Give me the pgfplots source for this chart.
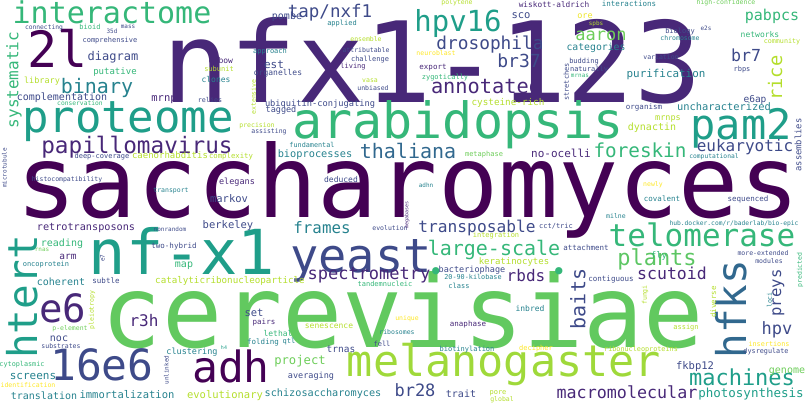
\documentclass[border=0pt]{standalone}
\usepackage{pgfplots}
\pgfplotsset{compat=1.18}
\usepackage{fontspec}
\newfontfamily\wc{DejaVu Sans Mono}
\definecolor{V0}{HTML}{440154}
\definecolor{V1}{HTML}{482878}
\definecolor{V2}{HTML}{3E4A89}
\definecolor{V3}{HTML}{31688E}
\definecolor{V4}{HTML}{26828E}
\definecolor{V5}{HTML}{1F9E89}
\definecolor{V6}{HTML}{35B779}
\definecolor{V7}{HTML}{6DCD59}
\definecolor{V8}{HTML}{B4DE2C}
\definecolor{V9}{HTML}{FDE725}
\newcommand\w[6]{\node[anchor=base,inner sep=0pt,rotate=#5,text=#4,font=\wc\fontsize{#3}{#3}\selectfont] at (axis cs:#1,#2) {\raisebox{-0.27em}{#6}};}
\begin{document}
\begin{tikzpicture}
\begin{axis}[width=808pt,height=404pt,scale only axis,xmin=0,xmax=808,ymin=0,ymax=404,y dir=reverse,hide axis,clip=false]
\addplot[draw=none,forget plot] coordinates {(0,0) (808,404)};
% big words
\w{408}{190}{100}{V0}{0}{saccharomyces}
\w{403}{320}{100}{V7!80!V6}{0}{cerevisiae}
\w{432}{72}{112}{V1}{0}{nfx1-123}
\w{458}{125}{50}{V6}{0}{arabidopsis}
\w{128}{121}{44}{V5}{0}{proteome}
\w{741}{128}{42}{V5}{0}{pam2}
\w{182}{258}{62}{V5}{0}{nf-x1}
\w{361}{260}{47}{V2}{0}{yeast}
\w{504}{365}{43.5}{V8!70!V7}{0}{melanogaster}
\w{102}{369}{43}{V2}{0}{16e6}
\w{231}{371}{43}{V0}{0}{adh}
\w{26}{297}{41}{V5}{90}{htert}
\w{63}{312}{39}{V1}{0}{e6}
\w{735}{309}{41}{V3}{90}{hfks}
\w{58}{54}{50}{V0}{0}{2l}
\w{112}{15}{30}{V6}{0}{interactome}
\w{458}{24}{29}{V5}{0}{hpv16}
\w{702}{238}{31}{V6}{0}{telomerase}
% medium
\w{137}{147}{22.7}{V1}{0}{papillomavirus}
\w{97}{88}{20}{V4}{0}{binary}
\w{408}{153}{20}{V3}{0}{thaliana}
\w{486}{88}{20.3}{V1}{0}{annotated}
\w{490}{45}{17.8}{V2}{0}{drosophila}
\w{519}{63}{18}{V2}{0}{br37}
\w{330}{13}{17.5}{V2}{0}{tap/nxf1}
\w{772}{16}{15}{V6}{0}{pabpcs}
\w{601}{36}{17}{V7}{0}{aaron}
\w{746}{57}{16.6}{V2}{0}{br7}
\w{777}{78}{18.7}{V8}{90}{rice}
\w{640}{152}{19.3}{V6}{0}{foreskin}
\w{745}{147}{16}{V2}{0}{eukaryotic}
\w{14}{80}{16}{V6}{90}{systematic}
\w{369}{275}{17}{V1}{0}{spectrometry}
\w{436}{274}{25}{V6}{0}{•}
\w{559}{274}{25}{V6}{0}{•}
\w{477}{228}{16.2}{V2}{0}{transposable}
\w{494}{250}{20}{V6}{0}{large-scale}
\w{657}{260}{22}{V7!70!V6}{0}{plants}
\w{526}{277}{16}{V1}{0}{rbds}
\w{672}{275}{16.5}{V1}{0}{scutoid}
\w{580}{299}{20}{V2}{90}{baits}
\w{777}{293}{15.6}{V2}{90}{preys}
\w{777}{330}{17}{V2}{0}{hpv}
\w{742}{380}{22}{V5}{0}{machines}
\w{627}{394}{16.7}{V1}{0}{macromolecular}
\w{751}{394}{12.5}{V5}{0}{photosynthesis}
\w{415}{392}{17}{V2}{0}{br28}
\w{144}{322}{16}{V1}{0}{r3h}
\w{322}{229}{15.8}{V4}{0}{frames}
\w{300}{361}{12.2}{V7}{0}{project}
\w{666}{75}{10.9}{V4}{0}{purification}
\w{724}{108}{10.4}{V4}{0}{uncharacterized}
\w{561}{155}{11}{V1}{0}{no-ocelli}
\w{652}{128}{10}{V8}{0}{dynactin}
\w{668}{118}{8.5}{V8}{0}{mrnps}
\w{755}{100}{9.5}{V2}{0}{e6ap}
\w{596}{48}{9.8}{V4}{0}{categories}
\w{521}{16}{10.5}{V2}{0}{sco}
\w{508}{103}{9.3}{V8}{0}{cysteine-rich}
\w{62}{98}{10}{V2}{0}{complementation}
\w{113}{57}{12}{V2}{0}{diagram}
\w{164}{99}{10.5}{V1}{0}{mrnp}
\w{287}{17}{10}{V2}{0}{pombe}
\w{315}{155}{10.3}{V4}{0}{bioprocesses}
\w{229}{200}{10.5}{V2}{0}{markov}
\w{274}{66}{11}{V2}{0}{est}
\w{170}{156}{9}{V8}{0}{caenorhabditis}
\w{86}{228}{10.2}{V1}{0}{retrotransposons}
\w{62}{244}{10}{V6}{0}{reading}
\w{68}{257}{9.5}{V1}{0}{arm}
\w{228}{226}{10.5}{V2}{0}{berkeley}
\w{184}{265}{10}{V6}{0}{map}
\w{61}{283}{10}{V4}{0}{coherent}
\w{230}{281}{9.2}{V8}{0}{catalyticribonucleoparticle}
\w{254}{314}{10.5}{V2}{0}{set}
\w{59}{339}{10}{V2}{0}{noc}
\w{192}{352}{8.5}{V4}{0}{clustering}
\w{341}{350}{9.5}{V2}{0}{trnas}
\w{33}{377}{11}{V4}{0}{screens}
\w{311}{376}{8.5}{V2}{0}{averaging}
\w{44}{397}{10}{V4}{0}{translation}
\w{127}{396}{10.5}{V4}{0}{immortalization}
\w{225}{396}{10.5}{V8}{0}{evolutionary}
\w{323}{394}{10.2}{V4}{0}{schizosaccharomyces}
\w{695}{367}{10.5}{V2}{0}{fkbp12}
\w{787}{371}{10}{V7}{0}{genome}
\w{461}{395}{10}{V2}{0}{trait}
\w{514}{262}{9}{V8}{0}{keratinocytes}
\w{659}{256}{9}{V6}{0}{fly}
\w{472}{270}{8.5}{V2}{0}{bacteriophage}
\w{799}{145}{8.8}{V2}{90}{assemblies}
\w{760}{35}{8}{V6}{0}{networks}
% small
\w{44}{28}{6.3}{V2}{0}{connecting}
\w{90}{28}{7}{V6}{0}{bioid}
\w{112}{32}{6}{V2}{0}{35d}
\w{128}{27}{6}{V2}{0}{mass}
\w{110}{41}{7}{V2}{0}{comprehensive}
\w{342}{24}{7}{V4}{0}{applied}
\w{366}{40}{6.5}{V8}{0}{ensemble}
\w{270}{52}{7}{V4}{0}{approach}
\w{366}{51}{6.5}{V2}{0}{attributable}
\w{370}{60}{7}{V2}{0}{challenge}
\w{221}{61}{8}{V1}{0}{elbow}
\w{219}{70}{7}{V8}{0}{subunit}
\w{353}{67}{7}{V1}{0}{living}
\w{370}{81}{6.5}{V8}{0}{vasa}
\w{373}{89}{6.5}{V2}{0}{unbiased}
\w{278}{73}{8}{V2}{0}{organelles}
\w{115}{72}{9}{V6}{0}{putative}
\w{42}{81}{8.5}{V8}{0}{library}
\w{216}{80}{8}{V4}{0}{clones}
\w{210}{101}{6.7}{V2}{0}{relies}
\w{80}{104}{6.3}{V6}{0}{conservation}
\w{320}{104}{8.7}{V2}{0}{ubiquitin-conjugating}
\w{281}{110}{8.5}{V2}{0}{tagged}
\w{257}{126}{6.5}{V8}{0}{precision}
\w{269}{132}{6.5}{V2}{0}{assisting}
\w{254}{97}{6.5}{V8}{90}{extensive}
\w{312}{146}{6.8}{V4}{0}{fundamental}
\w{102}{157}{7}{V2}{0}{deep-coverage}
\w{231}{157}{7.3}{V8}{0}{complexity}
\w{67}{180}{6.5}{V2}{0}{histocompatibility}
\w{5}{168}{6}{V2}{90}{microtubule}
\w{237}{182}{8.5}{V1}{0}{elegans}
\w{341}{180}{8}{V2}{0}{deduced}
\w{171}{191}{6.5}{V4}{0}{transport}
\w{554}{5}{7.8}{V1}{0}{wiskott-aldrich}
\w{457}{3}{6.5}{V8}{0}{polytene}
\w{629}{4}{7.5}{V4}{0}{interactions}
\w{726}{3}{6.5}{V7}{0}{high-confidence}
\w{585}{16}{8.5}{V9!80!V8}{0}{ore}
\w{596}{24}{6}{V8}{0}{spbs}
\w{782}{42}{6.7}{V8}{0}{community}
\w{680}{32}{7}{V2}{0}{biology}
\w{706}{29}{6}{V2}{0}{e2s}
\w{680}{39}{6.5}{V4}{0}{chromosome}
\w{661}{58}{6.5}{V2}{0}{variation}
\w{584}{62}{7}{V2}{0}{budding}
\w{589}{70}{7}{V2}{0}{naturally}
\w{580}{76}{6}{V6}{0}{mrnas}
\w{567}{82}{7}{V2}{90}{stretches}
\w{742}{70}{7}{V2}{0}{rbps}
\w{436}{54}{6.5}{V9}{0}{neuroblast}
\w{433}{67}{7.5}{V1}{0}{export}
\w{445}{78}{7}{V6}{0}{zygotically}
\w{644}{107}{7.5}{V2}{0}{organism}
\w{484}{155}{7}{V7}{0}{metaphase}
\w{714}{157}{6.3}{V4}{0}{computational}
\w{426}{186}{6}{V4}{0}{adhn}
\w{653}{185}{6.5}{V9}{0}{newly}
\w{662}{199}{7.5}{V4}{0}{covalent}
\w{748}{199}{7.5}{V2}{0}{sequenced}
\w{170}{230}{6}{V2}{0}{nonrandom}
\w{174}{246}{7.5}{V2}{0}{two-hybrid}
\w{42}{250}{6}{V7}{0}{rnas}
\w{46}{265}{7}{V4}{0}{oncoprotein}
\w{103}{258}{6}{V2}{90}{e7}
\w{106}{281}{7.5}{V2}{0}{subtle}
\w{385}{285}{7}{V6}{0}{tandemnucleic}
\w{92}{310}{6.5}{V8}{90}{pleiotropy}
\w{264}{322}{7.5}{V1}{0}{pairs}
\w{70}{329}{6.5}{V7}{0}{p-element}
\w{278}{334}{8}{V6}{0}{lethal}
\w{329}{326}{8}{V8}{0}{senescence}
\w{61}{347}{6.5}{V2}{0}{substrates}
\w{263}{342}{7.5}{V4}{0}{folding}
\w{289}{342}{7}{V4}{0}{qtl}
\w{224}{348}{5}{V5}{0}{h4}
\w{382}{345}{7}{V2}{0}{fell}
\w{22}{365}{6.8}{V6}{0}{cytoplasmic}
\w{167}{370}{6}{V2}{90}{unlinked}
\w{28}{386}{6.5}{V9}{0}{identification}
\w{390}{229}{6.5}{V2}{0}{evolution}
\w{397}{333}{6.5}{V4}{0}{ribosomes}
\w{407}{319}{6.5}{V9}{0}{unique}
\w{407}{215}{5}{V1}{90}{megabases}
\w{556}{227}{7}{V2}{0}{cct/tric}
\w{616}{217}{6.5}{V4}{0}{milne}
\w{734}{224}{6.3}{V4}{0}{hub.docker.com/r/baderlab/bio-epic}
\w{496}{236}{7}{V8}{0}{integration}
\w{586}{248}{7.5}{V2}{0}{attachment}
\w{763}{254}{6.5}{V2}{0}{more-extended}
\w{769}{262}{6.5}{V2}{0}{modules}
\w{800}{270}{6.5}{V6}{90}{predicted}
\w{473}{278}{6.8}{V4}{0}{20-90-kilobase}
\w{459}{287}{7}{V4}{0}{class}
\w{611}{279}{7.5}{V2}{0}{contiguous}
\w{770}{300}{6.5}{V4}{90}{loci}
\w{645}{295}{6.5}{V8}{90}{fungi}
\w{714}{302}{7.5}{V8}{90}{diverse}
\w{530}{309}{8}{V4}{0}{inbred}
\w{468}{324}{7.5}{V1}{0}{anaphase}
\w{686}{328}{7}{V8}{0}{assign}
\w{467}{350}{7}{V4}{0}{biotinylation}
\w{536}{349}{7}{V9}{0}{decipher}
\w{641}{350}{6.8}{V8}{0}{ribonucleoproteins}
\w{769}{345}{6.8}{V9}{0}{insertions}
\w{766}{352}{6.8}{V2}{0}{dysregulate}
\w{498}{393}{7}{V8}{0}{pore}
\w{502}{400}{6.5}{V8}{0}{global}
\end{axis}
\pgfresetboundingbox
\path (0,0) rectangle (808pt,404pt);
\end{tikzpicture}
\end{document}
